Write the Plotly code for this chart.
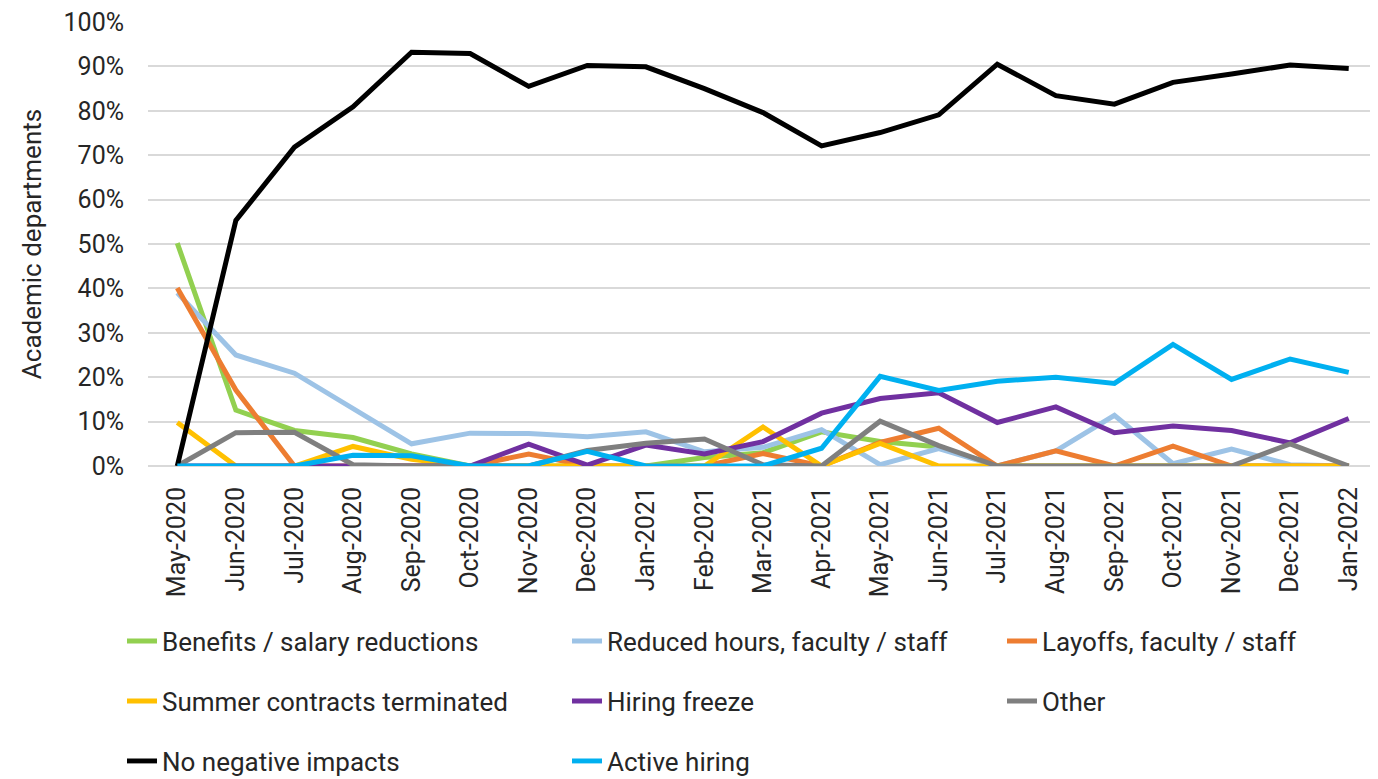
import plotly.graph_objects as go

months = ["May-2020", "Jun-2020", "Jul-2020", "Aug-2020", "Sep-2020", "Oct-2020", "Nov-2020",
          "Dec-2020", "Jan-2021", "Feb-2021", "Mar-2021", "Apr-2021", "May-2021", "Jun-2021",
          "Jul-2021", "Aug-2021", "Sep-2021", "Oct-2021", "Nov-2021", "Dec-2021", "Jan-2022"]

benefits = [50.2, 12.6, 8.0, 6.4, 2.7, 0, 0, 0, 0, 1.9, 3.0, 7.7, 5.5, 4.3, 0, 0, 0, 0, 0, 0, 0]
reduced_hours = [39.0, 25.0, 20.9, 13.0, 5.0, 7.4, 7.3, 6.6, 7.7, 3.2, 4.2, 8.2, 0.3, 3.9, 0, 3.4, 11.4, 0.5, 3.8, 0.3, 0]
layoffs = [40.1, 17.1, 0, 0, 0, 0, 2.7, 0, 0, 0, 2.8, 0, 5.3, 8.5, 0, 3.4, 0, 4.5, 0, 0, 0]
summer = [9.8, 0, 0, 4.4, 1.5, 0, 0, 0, 0, 0, 8.8, 0, 5.1, 0, 0, 0, 0, 0, 0, 0, 0]
hiring_freeze = [0, 0, 0, 0, 0, 0, 4.9, 0.2, 4.7, 2.7, 5.5, 11.9, 15.2, 16.5, 9.8, 13.3, 7.5, 9.0, 8.0, 5.2, 10.7]
other = [0, 7.5, 7.6, 0.3, 0, 0, 0, 3.5, 5.1, 6.1, 0.3, 0, 10.1, 4.6, 0, 0, 0, 0, 0, 5.0, 0]
no_negative = [0, 55.3, 71.8, 80.9, 93.2, 92.9, 85.5, 90.2, 89.9, 85.0, 79.6, 72.1, 75.1, 79.1, 90.5, 83.4, 81.5, 86.4, 88.3, 90.3, 89.5]
active_hiring = [0, 0, 0, 2.4, 2.3, 0, 0, 3.3, 0, 0, 0, 4.0, 20.2, 17.0, 19.1, 20.0, 18.6, 27.4, 19.5, 24.1, 21.1]

y_ticks = list(range(0, 101, 10))
y_tick_labels = [f"{v}%" for v in y_ticks]

# legend groups: rows 1-3 hold the first two columns, the third column uses its own legends
series = [
    ("Benefits / salary reductions", benefits, "#92D050", "legend"),
    ("Reduced hours, faculty / staff", reduced_hours, "#9DC3E6", "legend"),
    ("Layoffs, faculty / staff", layoffs, "#ED7D31", "legend4"),
    ("Summer contracts terminated", summer, "#FFC000", "legend2"),
    ("Hiring freeze", hiring_freeze, "#7030A0", "legend2"),
    ("Other", other, "#7F7F7F", "legend5"),
    ("No negative impacts", no_negative, "#000000", "legend3"),
    ("Active hiring", active_hiring, "#00B0F0", "legend3"),
]

FONT = "Roboto, sans-serif"
TXT = "#262626"

fig = go.Figure()
for name, vals, color, lg in series:
    fig.add_trace(go.Scatter(
        x=months, y=vals, name=name, mode="lines",
        line=dict(color=color, width=5),
        legend=lg,
    ))

leg_common = dict(
    orientation="h", xanchor="left", yanchor="middle",
    entrywidth=400, entrywidthmode="pixels",
    font=dict(family=FONT, size=26, color=TXT),
    bgcolor="rgba(0,0,0,0)", itemclick=False, itemdoubleclick=False,
    traceorder="normal",
)

# the page body adds an 8px offset; figure is sized to fit the 1378x779 window
PLOT_H = 444
PLOT_W = 1230

def row_y(px):
    return (466 - px) / PLOT_H

X1 = (122 - 148) / PLOT_W
X3 = (1002 - 148) / PLOT_W

fig.update_layout(
    width=1370, height=771,
    margin=dict(l=140, r=0, t=14, b=313, autoexpand=False),
    paper_bgcolor="white", plot_bgcolor="white",
    font=dict(family=FONT, size=25, color=TXT),
    showlegend=True,
    legend=dict(leg_common, x=X1, y=row_y(641)),
    legend2=dict(leg_common, x=X1, y=row_y(701)),
    legend3=dict(leg_common, x=X1, y=row_y(761)),
    legend4=dict(leg_common, x=X3, y=row_y(641)),
    legend5=dict(leg_common, x=X3, y=row_y(701)),
    xaxis=dict(
        type="category", range=[-0.5, 20.5], automargin=False,
        tickangle=-90, showgrid=False, showline=False, zeroline=False,
        ticks="outside", ticklen=10, tickcolor="rgba(0,0,0,0)",
        ticklabeloverflow="allow",
        tickfont=dict(family=FONT, size=25, color=TXT),
    ),
    yaxis=dict(
        range=[0, 100], tickvals=y_ticks, ticktext=y_tick_labels, automargin=False,
        showgrid=True, gridcolor="#D9D9D9", gridwidth=1.5,
        zeroline=True, zerolinecolor="#D9D9D9", zerolinewidth=1.5,
        showline=False,
        ticks="outside", ticklen=18, tickcolor="rgba(0,0,0,0)",
        ticklabeloverflow="allow",
        tickfont=dict(family=FONT, size=25, color=TXT),
        title=dict(text="Academic departments", font=dict(family=FONT, size=26, color=TXT), standoff=14),
    ),
)

fig.write_html("out.html")
